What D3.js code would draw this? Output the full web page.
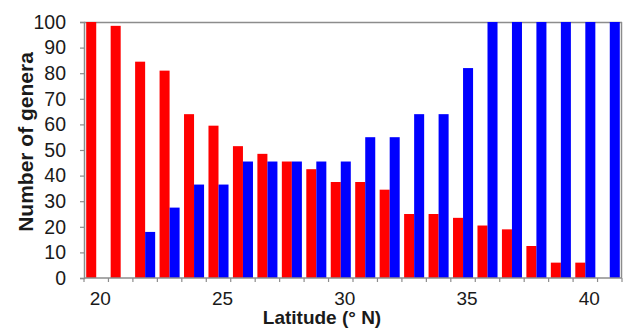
<!DOCTYPE html>
<html>
<head>
<meta charset="utf-8">
<script src="https://cdn.jsdelivr.net/npm/d3@7"></script>
<style>
  body { margin: 0; background: #fff; }
  text { font-family: "Liberation Sans", Arial, sans-serif; fill: #1a1a1a; }
</style>
</head>
<body>
<div id="chart"></div>
<script>
// latitude bins (° N)
var latitudes = [20, 21, 22, 23, 24, 25, 26, 27, 28, 29, 30, 31, 32, 33, 34, 35, 36, 37, 38, 39, 40, 41];
var redValues = [100, 98.5, 84.5, 81, 64, 59.5, 51.5, 48.5, 45.5, 42.5, 37.5, 37.5, 34.5, 25, 25, 23.5, 20.5, 19, 12.5, 6, 6, 0];
var blueValues = [0, 0, 18, 27.5, 36.5, 36.5, 45.5, 45.5, 45.5, 45.5, 45.5, 55, 55, 64, 64, 82, 100, 100, 100, 100, 100, 100];
var yTicks = [0, 10, 20, 30, 40, 50, 60, 70, 80, 90, 100];
var xLabels = [20, 25, 30, 35, 40];

var svgWidth = 629, svgHeight = 329;
var margin = { top: 22, right: 7, bottom: 51, left: 84 };
var width = svgWidth - margin.left - margin.right;
var height = svgHeight - margin.top - margin.bottom;
var axisColor = "#8c8c8c";

var svg = d3.select("#chart").append("svg")
  .attr("width", svgWidth)
  .attr("height", svgHeight);

var g = svg.append("g")
  .attr("transform", "translate(" + margin.left + "," + margin.top + ")");

var x0 = d3.scaleBand()
  .domain(latitudes)
  .range([0, width])
  .padding(0);

var x1 = d3.scaleBand()
  .domain(["red", "blue"])
  .range([0, x0.bandwidth()])
  .paddingInner(0)
  .paddingOuter(0.22);

var y = d3.scaleLinear()
  .domain([0, 100])
  .range([height, 0]);

// plot frame (top + right)
g.append("line")
  .attr("x1", 0).attr("x2", width)
  .attr("y1", 0.5).attr("y2", 0.5)
  .attr("stroke", axisColor).attr("stroke-width", 1.5);
g.append("line")
  .attr("x1", width - 0.5).attr("x2", width - 0.5)
  .attr("y1", 0).attr("y2", height)
  .attr("stroke", axisColor).attr("stroke-width", 1.5);

// bars
var rows = latitudes.map(function (d, i) {
  return { lat: d, red: redValues[i], blue: blueValues[i] };
});

var group = g.selectAll(".grp")
  .data(rows)
  .enter().append("g")
  .attr("class", "grp")
  .attr("transform", function (d) { return "translate(" + x0(d.lat) + ",0)"; });

group.selectAll("rect")
  .data(function (d) { return [{ k: "red", v: d.red }, { k: "blue", v: d.blue }]; })
  .enter().append("rect")
  .attr("x", function (d) { return x1(d.k); })
  .attr("y", function (d) { return y(d.v); })
  .attr("width", x1.bandwidth())
  .attr("height", function (d) { return height - y(d.v); })
  .attr("fill", function (d) { return d.k === "red" ? "#ff0000" : "#0000ff"; });

// y axis
var yAxis = g.append("g")
  .call(d3.axisLeft(y).tickValues(yTicks).tickSize(4).tickPadding(14));
yAxis.select(".domain").attr("stroke", axisColor).attr("stroke-width", 1.5);
yAxis.selectAll(".tick line").attr("stroke", axisColor).attr("stroke-width", 1.2);
yAxis.selectAll(".tick text").attr("font-size", "19.5px").attr("fill", "#1a1a1a");

// x axis: line + boundary ticks
var xAxis = g.append("g")
  .attr("transform", "translate(0," + height + ")");
xAxis.append("line")
  .attr("x1", 0).attr("x2", width)
  .attr("stroke", axisColor).attr("stroke-width", 1.5);
var bounds = latitudes.map(function (d) { return x0(d); }).concat([width]);
xAxis.selectAll(".btick")
  .data(bounds)
  .enter().append("line")
  .attr("class", "btick")
  .attr("x1", function (d) { return d; })
  .attr("x2", function (d) { return d; })
  .attr("y1", 0).attr("y2", 4)
  .attr("stroke", axisColor).attr("stroke-width", 1.2);
xAxis.selectAll(".xlab")
  .data(xLabels)
  .enter().append("text")
  .attr("class", "xlab")
  .attr("x", function (d) { return x0(d) + x0.bandwidth() / 2 + 4; })
  .attr("y", 27)
  .attr("text-anchor", "middle")
  .attr("font-size", "19px")
  .text(function (d) { return d; });

// axis titles
svg.append("text")
  .attr("x", 322)
  .attr("y", 324)
  .attr("text-anchor", "middle")
  .attr("font-size", "19px")
  .attr("font-weight", "bold")
  .text("Latitude (° N)");

svg.append("text")
  .attr("transform", "translate(33,142) rotate(-90)")
  .attr("text-anchor", "middle")
  .attr("font-size", "21px")
  .attr("font-weight", "bold")
  .text("Number of genera");
</script>
</body>
</html>
